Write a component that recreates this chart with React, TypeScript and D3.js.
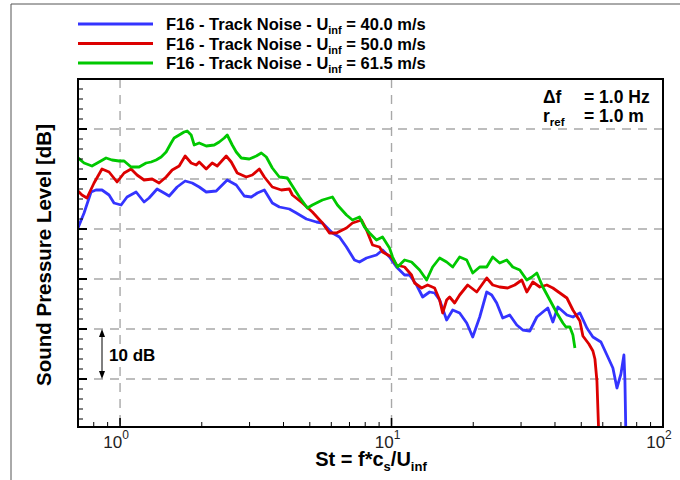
import React from 'react';
import * as d3 from 'd3';

// [St, SPL dB]
const blue40: [number, number][] = [
  [0.700, 60.2], [0.737, 63.2], [0.782, 67.4], [0.815, 67.8], [0.858, 67.8], [0.911, 66.8], [0.950, 65.2],
  [1.009, 64.8], [1.061, 66.4], [1.146, 67.4], [1.226, 65.4], [1.279, 66.2], [1.369, 68.0], [1.453, 67.2],
  [1.517, 66.6], [1.623, 68.4], [1.737, 69.6], [1.844, 69.2], [1.957, 68.4], [2.077, 67.4], [2.261, 67.6],
  [2.359, 68.6], [2.482, 69.8], [2.679, 68.8], [2.868, 66.6], [3.044, 66.4], [3.203, 67.2], [3.400, 67.8],
  [3.638, 65.2], [3.862, 64.4], [4.204, 64.0], [4.462, 63.2], [4.858, 62.0], [5.288, 61.4], [5.565, 61.2],
  [6.058, 59.2], [6.429, 58.4], [6.824, 56.4], [7.303, 53.8], [7.620, 53.4], [8.089, 54.2], [8.803, 54.8],
  [9.265, 55.8], [9.831, 54.4], [10.43, 52.4], [11.17, 50.8], [11.65, 50.8], [12.37, 48.8], [13.02, 46.4],
  [13.81, 47.4], [14.41, 47.2], [15.04, 45.8], [15.96, 41.8], [16.80, 43.8], [17.82, 43.2], [18.92, 41.2],
  [19.91, 38.4], [21.13, 42.4], [22.42, 47.4], [23.39, 46.8], [24.40, 45.2], [25.68, 42.2], [27.25, 42.8],
  [28.93, 40.8], [30.45, 39.8], [32.31, 39.6], [34.30, 42.4], [36.09, 43.4], [37.64, 44.2], [39.29, 41.4],
  [41.00, 44.4], [44.26, 42.8], [46.57, 42.4], [49.42, 43.2], [52.44, 40.2], [55.19, 38.4], [59.07, 37.4],
  [62.16, 34.8], [65.38, 32.2], [67.66, 28.2], [69.98, 31.0], [71.79, 34.8], [72.41, 29.6], [73.03, 18.0],
];

const red50: [number, number][] = [
  [0.694, 67.8], [0.724, 66.8], [0.755, 66.2], [0.802, 69.2], [0.858, 72.0], [0.911, 71.4], [0.975, 69.4],
  [1.035, 71.2], [1.098, 72.0], [1.155, 70.8], [1.226, 69.8], [1.313, 70.0], [1.393, 69.2], [1.478, 70.4],
  [1.556, 71.8], [1.651, 72.6], [1.737, 74.6], [1.828, 73.2], [1.908, 72.8], [1.957, 73.4], [2.077, 72.0],
  [2.185, 73.2], [2.280, 72.6], [2.461, 74.6], [2.568, 73.4], [2.702, 71.2], [2.917, 70.4], [3.070, 70.8],
  [3.258, 72.0], [3.400, 70.4], [3.638, 68.4], [3.928, 67.8], [4.204, 68.0], [4.313, 66.8], [4.696, 65.2],
  [5.111, 63.4], [5.565, 61.2], [5.905, 59.2], [6.267, 59.2], [6.824, 60.2], [7.179, 61.2], [7.751, 61.8],
  [8.089, 59.8], [8.512, 56.8], [9.031, 56.4], [9.265, 55.4], [10.0, 54.4], [10.43, 52.8], [11.17, 52.4],
  [11.85, 50.8], [12.16, 49.2], [12.91, 48.2], [13.58, 48.8], [14.41, 48.2], [15.04, 45.8], [15.43, 43.2],
  [15.96, 45.8], [16.37, 46.4], [17.08, 45.2], [17.82, 46.8], [19.08, 48.8], [20.60, 47.4], [22.42, 50.2],
  [23.59, 48.8], [25.03, 48.4], [26.79, 48.2], [28.44, 48.8], [30.19, 49.8], [31.50, 47.4], [33.15, 49.4],
  [35.18, 48.4], [37.33, 48.8], [39.29, 48.2], [41.70, 47.2], [44.26, 46.2], [46.57, 43.8], [49.42, 41.6],
  [50.69, 38.6], [53.34, 37.0], [55.19, 35.6], [56.14, 34.0], [57.10, 29.6], [58.08, 18.0],
];

const green615: [number, number][] = [
  [0.694, 74.4], [0.737, 73.2], [0.788, 72.6], [0.837, 73.4], [0.888, 74.2], [0.934, 73.8], [0.992, 73.6],
  [1.035, 73.6], [1.098, 72.4], [1.175, 72.4], [1.247, 73.2], [1.301, 73.4], [1.358, 73.8], [1.417, 74.4],
  [1.478, 75.4], [1.542, 77.2], [1.582, 78.2], [1.651, 78.8], [1.722, 79.4], [1.767, 79.6], [1.828, 78.8],
  [1.876, 76.8], [1.957, 77.2], [2.077, 76.6], [2.223, 76.8], [2.319, 77.4], [2.420, 78.2], [2.482, 78.8],
  [2.590, 76.8], [2.679, 75.4], [2.796, 74.2], [2.992, 74.0], [3.176, 74.6], [3.314, 75.2], [3.458, 74.4],
  [3.638, 72.2], [3.862, 70.4], [4.134, 70.2], [4.313, 68.6], [4.578, 66.4], [4.898, 64.2], [5.111, 64.8],
  [5.565, 65.8], [6.058, 66.4], [6.320, 64.8], [6.824, 62.8], [7.179, 61.8], [7.620, 62.4], [7.951, 60.4],
  [8.298, 59.2], [8.803, 57.8], [9.265, 58.4], [9.831, 56.2], [10.09, 54.4], [10.52, 52.4], [11.17, 53.8],
  [11.85, 53.4], [12.69, 51.8], [13.47, 49.8], [14.17, 52.4], [15.04, 54.2], [15.96, 53.4], [16.80, 52.4],
  [17.82, 54.4], [18.92, 53.8], [19.91, 51.2], [21.13, 52.4], [22.42, 52.4], [23.59, 54.4], [25.03, 53.2],
  [26.57, 53.8], [27.96, 52.4], [29.68, 51.8], [31.50, 49.8], [32.87, 50.4], [34.30, 51.2], [36.09, 48.4],
  [38.30, 45.8], [40.65, 43.2], [42.78, 41.2], [43.89, 40.4], [45.40, 40.4], [46.57, 38.8], [47.37, 36.2],
];

const speeds = ['40.0', '50.0', '61.5'];
const colors = ['#3434ff', '#dc0000', '#00c800'];
const xTickDecades = [1, 10, 100];
const xTickExponents = ['0', '1', '2'];

const FONT = '"Liberation Sans", Arial, Helvetica, sans-serif';

export default function App() {
  const W = 680, H = 480;
  const L = 78, R = 663, T = 79, B = 427;
  const x = d3.scaleLog().domain([0.7, 100]).range([L, R]);
  const y = d3.scaleLinear().domain([20.4, 90]).range([B, T]);
  const line = d3.line<[number, number]>().x(d => x(d[0])).y(d => y(d[1]));
  const all = [blue40, red50, green615];

  const xTicks = x.ticks().filter(v => v > 0.7 + 1e-9 && v < 100 - 1e-9);
  const yTicks = d3.range(22, 90, 2);
  const yMajor = d3.range(30, 90, 10);
  const xMajor = [1, 10];

  return (
    <svg width={W} height={H} style={{ position: 'absolute', left: 0, top: 0, background: '#fff' }} fontFamily={FONT}>
      <rect x={0} y={0} width={W} height={H} fill="#fff" />
      <line x1={11} y1={4} x2={W} y2={4} stroke="#555" strokeWidth={1} />
      <line x1={11} y1={4} x2={11} y2={H} stroke="#555" strokeWidth={1} />
      <defs>
        <clipPath id="plot"><rect x={L} y={T} width={R - L} height={B - T} /></clipPath>
      </defs>
      {/* grid */}
      {yMajor.map(v => (
        <line key={'gy' + v} x1={L} x2={R} y1={y(v)} y2={y(v)} stroke="#a8a8a8" strokeWidth={1.4} strokeDasharray="9,7" />
      ))}
      {xMajor.map(v => (
        <line key={'gx' + v} x1={x(v)} x2={x(v)} y1={T} y2={B} stroke="#a8a8a8" strokeWidth={1.4} strokeDasharray="9,7" />
      ))}
      {/* data */}
      <g clipPath="url(#plot)">
        {all.map((s, i) => (
          <path key={i} d={line(s) || ''} fill="none" stroke={colors[i]} strokeWidth={2.8} strokeLinejoin="round" />
        ))}
      </g>
      {/* ticks */}
      {xTicks.map(v => {
        const major = xMajor.includes(v);
        return <line key={'tx' + v} x1={x(v)} x2={x(v)} y1={B} y2={B - (major ? 9 : 5)} stroke="#000" strokeWidth={major ? 1.6 : 1} />;
      })}
      {yTicks.map(v => {
        const major = v % 10 === 0;
        return <line key={'ty' + v} x1={L} x2={L + (major ? 9 : 5)} y1={y(v)} y2={y(v)} stroke="#000" strokeWidth={major ? 2 : 1} />;
      })}
      <rect x={L} y={T} width={R - L} height={B - T} fill="none" stroke="#000" strokeWidth={2} />
      {/* x tick labels */}
      {xTickDecades.map((v, i) => (
        <text key={'xl' + v} x={x(v) - 4} y={448} fontSize={17} fill="#222" textAnchor="middle">
          10<tspan fontSize={12} dy={-9}>{xTickExponents[i]}</tspan>
        </text>
      ))}
      {/* axis titles */}
      <text x={371} y={466} fontSize={20} fontWeight="bold" textAnchor="middle">
        St = f*c<tspan fontSize={13} dy={5}>s</tspan><tspan dy={-5}>/U</tspan><tspan fontSize={13} dy={5}>inf</tspan>
      </text>
      <text transform="translate(43,255) rotate(-90)" fontSize={20.5} fontWeight="bold" textAnchor="middle" dominantBaseline="central">
        Sound Pressure Level [dB]
      </text>
      {/* legend */}
      {speeds.map((s, i) => {
        const ly = 24 + i * 19.5;
        return (
          <g key={'lg' + i}>
            <line x1={78} x2={153} y1={ly} y2={ly} stroke={colors[i]} strokeWidth={3} />
            <text x={166} y={ly + 6} fontSize={16.5} fontWeight="bold">
              F16 - Track Noise - U<tspan fontSize={11} dy={4}>inf</tspan><tspan dy={-4}>{' = ' + s + ' m/s'}</tspan>
            </text>
          </g>
        );
      })}
      {/* annotation */}
      <text x={543} y={103} fontSize={17.5} fontWeight="bold">Δf</text>
      <text x={584} y={103} fontSize={17.5} fontWeight="bold">= 1.0 Hz</text>
      <text x={543} y={122} fontSize={17.5} fontWeight="bold">r<tspan fontSize={11.5} dy={4}>ref</tspan></text>
      <text x={584} y={122} fontSize={17.5} fontWeight="bold">= 1.0 m</text>
      {/* 10 dB scale */}
      <line x1={102} x2={102} y1={y(40) + 6} y2={y(30) - 6} stroke="#000" strokeWidth={1} />
      <path d={`M102,${y(40)} L99,${y(40) + 8} L105,${y(40) + 8} Z`} fill="#000" />
      <path d={`M102,${y(30)} L99,${y(30) - 8} L105,${y(30) - 8} Z`} fill="#000" />
      <text x={109} y={361} fontSize={17} fontWeight="bold">10 dB</text>
    </svg>
  );
}
